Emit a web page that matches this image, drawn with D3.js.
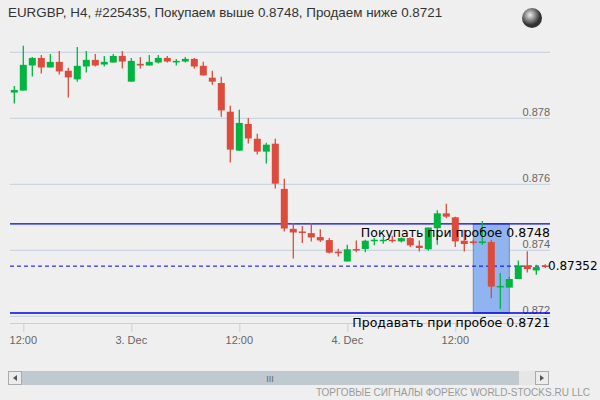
<!DOCTYPE html>
<html lang="en">
<head>
<script src="https://d3js.org/d3.v7.min.js"></script>
<style>
body { margin:0; background:#efefef; }
svg text { font-family: "Liberation Sans", Arial, sans-serif; }
</style>
</head>
<body>
<script>
// hourly candles, index 0..59
const opens  = [0.87878,0.87884,0.87960,0.87983,0.87954,0.87971,0.87944,0.87918,0.87957,0.87977,0.87963,0.87969,0.87989,0.87911,0.87965,0.87960,0.87969,0.87983,0.87972,0.87972,0.87980,0.87959,0.87923,0.87907,0.87820,0.87702,0.87783,0.87738,0.87699,0.87723,0.87586,0.87465,0.87457,0.87452,0.87440,0.87431,0.87396,0.87366,0.87404,0.87404,0.87430,0.87430,0.87432,0.87427,0.87437,0.87414,0.87403,0.87467,0.87512,0.87500,0.87429,0.87427,0.87422,0.87425,0.87288,0.87287,0.87313,0.87354,0.87339,0.87354];
const highs  = [0.87898,0.88020,0.87986,0.87992,0.87995,0.88004,0.87953,0.88016,0.88004,0.87995,0.87989,0.87995,0.88004,0.87983,0.87986,0.87992,0.87992,0.87989,0.87980,0.87986,0.87983,0.87971,0.87944,0.87926,0.87838,0.87826,0.87801,0.87753,0.87726,0.87738,0.87617,0.87483,0.87474,0.87482,0.87464,0.87437,0.87405,0.87417,0.87430,0.87432,0.87437,0.87442,0.87444,0.87439,0.87439,0.87430,0.87469,0.87521,0.87541,0.87502,0.87462,0.87432,0.87489,0.87432,0.87331,0.87319,0.87369,0.87397,0.87356,0.87358];
const lows   = [0.87845,0.87884,0.87927,0.87936,0.87954,0.87933,0.87863,0.87911,0.87939,0.87957,0.87957,0.87969,0.87951,0.87911,0.87951,0.87960,0.87966,0.87969,0.87960,0.87969,0.87951,0.87930,0.87902,0.87805,0.87666,0.87702,0.87724,0.87690,0.87663,0.87587,0.87457,0.87375,0.87422,0.87427,0.87425,0.87390,0.87381,0.87366,0.87394,0.87394,0.87415,0.87420,0.87424,0.87424,0.87410,0.87396,0.87399,0.87417,0.87497,0.87410,0.87396,0.87417,0.87417,0.87255,0.87222,0.87287,0.87313,0.87333,0.87326,0.87346];
const closes = [0.87886,0.87962,0.87983,0.87954,0.87971,0.87942,0.87924,0.87959,0.87977,0.87960,0.87971,0.87989,0.87972,0.87974,0.87960,0.87971,0.87983,0.87972,0.87974,0.87980,0.87957,0.87930,0.87911,0.87824,0.87705,0.87786,0.87739,0.87699,0.87720,0.87602,0.87466,0.87454,0.87454,0.87439,0.87430,0.87393,0.87391,0.87403,0.87401,0.87429,0.87432,0.87432,0.87429,0.87437,0.87415,0.87407,0.87469,0.87512,0.87502,0.87427,0.87419,0.87422,0.87427,0.87290,0.87292,0.87313,0.87354,0.87343,0.87349,0.87352];
const yTicks = [0.872, 0.874, 0.876, 0.878, 0.880];
const xTickIdx = [1, 13, 25, 37, 49];
const xTickLabels = ["12:00", "3. Dec", "12:00", "4. Dec", "12:00"];
const buyLevel = 0.8748, sellLevel = 0.8721, lastPrice = 0.87352;
const boxFrom = 51, boxTo = 55;

const svg = d3.select("body").append("svg").attr("width", 600).attr("height", 400);
svg.append("rect").attr("width", 600).attr("height", 400).attr("fill", "#efefef");

const x = d3.scaleLinear().domain([0, 59]).range([14.3, 545.3]);
const y = d3.scaleLinear().domain([0.874, 0.880]).range([250.3, 52.3]);
const L = 10, R = 550;

// grid
svg.selectAll(".grid").data(yTicks).enter().append("line")
    .attr("x1", L).attr("x2", R).attr("y1", d => y(d)).attr("y2", d => y(d))
    .attr("stroke", "#c4d0e0").attr("stroke-width", 1);
svg.selectAll(".ylab").data(yTicks.filter(d => d < 0.880)).enter().append("text")
    .attr("x", R).attr("y", d => y(d) - 2).attr("text-anchor", "end")
    .attr("font-size", 11).attr("fill", "#666").text(d => d.toFixed(3));

// x axis
svg.append("line").attr("x1", L).attr("x2", R).attr("y1", 323.5).attr("y2", 323.5).attr("stroke", "#c4d0e0");
svg.selectAll(".xt").data(xTickIdx).enter().append("line")
    .attr("x1", d => x(d) + 0.5).attr("x2", d => x(d) + 0.5).attr("y1", 323).attr("y2", 332)
    .attr("stroke", "#c4d0e0");
svg.selectAll(".xl").data(xTickIdx).enter().append("text")
    .attr("x", d => x(d)).attr("y", 344).attr("text-anchor", "middle")
    .attr("font-size", 11).attr("fill", "#666").text((d, i) => xTickLabels[i]);

// highlight box
svg.append("rect").attr("x", x(boxFrom)).attr("width", x(boxTo) - x(boxFrom))
    .attr("y", y(buyLevel)).attr("height", y(sellLevel) - y(buyLevel))
    .attr("fill", "#8fb4f0").attr("stroke", "#7a8a9a").attr("stroke-width", 1);

// levels
[buyLevel, sellLevel].forEach(v => {
    svg.append("line").attr("x1", L).attr("x2", R).attr("y1", y(v)).attr("y2", y(v))
        .attr("stroke", "#0000ee").attr("stroke-width", 1.3);
});
svg.append("line").attr("x1", L).attr("x2", 545).attr("y1", y(lastPrice)).attr("y2", y(lastPrice))
    .attr("stroke", "#0000ee").attr("stroke-dasharray", "4,3");

// candles
const idx = d3.range(opens.length);
const g = svg.selectAll(".c").data(idx).enter().append("g");
const col = i => closes[i] >= opens[i] ? "#00b53f" : "#dd4b3c";
g.append("line").attr("x1", i => x(i)).attr("x2", i => x(i))
    .attr("y1", i => y(highs[i])).attr("y2", i => y(lows[i]))
    .attr("stroke", col).attr("stroke-width", 1.3);
g.append("rect").attr("x", i => x(i) - 3.5).attr("width", 7)
    .attr("y", i => y(Math.max(opens[i], closes[i])))
    .attr("height", i => Math.max(1.5, Math.abs(y(opens[i]) - y(closes[i]))))
    .attr("fill", col);

// labels
svg.append("text").attr("x", R).attr("y", 237).attr("text-anchor", "end")
    .style("font-family", "DejaVu Sans").attr("font-size", 12.5).attr("fill", "#000").text("Покупать при пробое 0.8748");
svg.append("text").attr("x", R).attr("y", 327).attr("text-anchor", "end")
    .style("font-family", "DejaVu Sans").attr("font-size", 12.5).attr("fill", "#000").text("Продавать при пробое 0.8721");
svg.append("text").attr("x", 548).attr("y", y(lastPrice) + 4)
    .style("font-family", "DejaVu Sans").attr("font-size", 12).attr("fill", "#000").text(lastPrice.toFixed(5));

// title
svg.append("text").attr("x", 8).attr("y", 17).attr("font-size", 13.4).attr("fill", "#333")
    .text("EURGBP, H4, #225435, Покупаем выше 0.8748, Продаем ниже 0.8721");
const grad = svg.append("defs").append("radialGradient").attr("id", "gl").attr("cx", "40%").attr("cy", "35%");
grad.append("stop").attr("offset", "0%").attr("stop-color", "#eee");
grad.append("stop").attr("offset", "100%").attr("stop-color", "#333");
svg.append("circle").attr("cx", 532).attr("cy", 18).attr("r", 10).attr("fill", "url(#gl)");

// scrollbar
svg.append("rect").attr("x", 8).attr("y", 371).attr("width", 540).attr("height", 14).attr("fill", "#e6e6e6");
svg.append("rect").attr("x", 22).attr("y", 371).attr("width", 497).attr("height", 14).attr("fill", "#c0c8d0");
[[8, "M13,378 l4,-3 v6 z"], [535, "M544,378 l-4,-3 v6 z"]].forEach(([bx, p]) => {
    svg.append("rect").attr("x", bx + 0.5).attr("y", 371.5).attr("width", 13).attr("height", 13)
        .attr("fill", "#ececec").attr("stroke", "#aaa");
    svg.append("path").attr("d", p).attr("fill", "#555");
});
svg.append("text").attr("x", 270).attr("y", 382).attr("text-anchor", "middle").attr("font-size", 9).attr("fill", "#666").text("III");
svg.append("text").attr("x", 590).attr("y", 396).attr("text-anchor", "end")
    .attr("font-size", 10).attr("fill", "#999").text("ТОРГОВЫЕ СИГНАЛЫ ФОРЕКС WORLD-STOCKS.RU LLC");
</script>
</body>
</html>
